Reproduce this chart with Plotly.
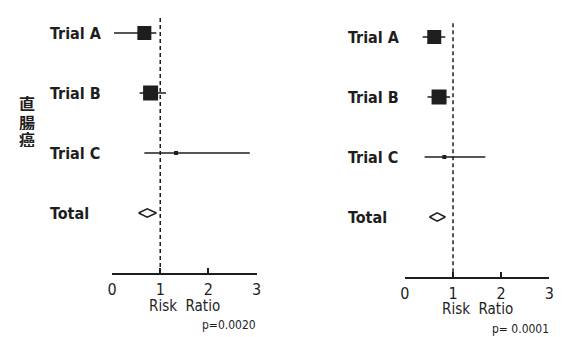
import plotly.graph_objects as go

# ---- data ----
trials = ["Trial A", "Trial B", "Trial C", "Total"]
rows = [0, 1, 2, 3]

left_est = [0.67, 0.80, 1.33]
left_lo = [0.04, 0.57, 0.67]
left_hi = [0.92, 1.12, 2.86]
left_total = [0.55, 0.73, 0.92]  # lo, est, hi
left_p = "p=0.0020"

right_est = [0.61, 0.71, 0.82]
right_lo = [0.37, 0.47, 0.41]
right_hi = [0.84, 0.94, 1.67]
right_total = [0.51, 0.67, 0.84]
right_p = "p= 0.0001"

sizes = [14, 15, 4]
ticks = [0, 1, 2, 3]
tick_labels = ["0", "1", "2", "3"]
side_chars = ["直", "腸", "癌"]

W, H = 572, 337
INK = "#1e1e1e"
FONT = "DejaVu Sans Condensed, Liberation Sans Narrow, sans-serif"

fig = go.Figure()


def add_panel(xa, ya, est, lo, hi, total):
    xref = "x" if xa == 1 else f"x{xa}"
    yref = "y" if ya == 1 else f"y{ya}"
    for i in range(3):
        fig.add_trace(go.Scatter(
            x=[lo[i], hi[i]], y=[rows[i], rows[i]], mode="lines",
            line=dict(color=INK, width=1.5), xaxis=xref, yaxis=yref,
            showlegend=False, hoverinfo="skip"))
    fig.add_trace(go.Scatter(
        x=est, y=rows[:3], mode="markers",
        marker=dict(symbol="square", size=sizes, color=INK, opacity=1,
                    line=dict(width=0)),
        xaxis=xref, yaxis=yref, showlegend=False))
    r = rows[3]
    h = 0.068
    fig.add_trace(go.Scatter(
        x=[total[0], total[1], total[2], total[1], total[0]],
        y=[r, r - h, r, r + h, r], mode="lines",
        line=dict(color=INK, width=1.5), xaxis=xref, yaxis=yref,
        showlegend=False, hoverinfo="skip"))


add_panel(1, 1, left_est, left_lo, left_hi, left_total)
add_panel(2, 2, right_est, right_lo, right_hi, right_total)

axis_common = dict(
    range=[0, 3], tickvals=ticks, ticktext=tick_labels, ticks="inside",
    ticklen=5, tickwidth=1.5, tickcolor=INK, showline=True, linecolor=INK,
    linewidth=2, showgrid=False, zeroline=False,
    tickfont=dict(family=FONT, size=16, color=INK), ticklabelstandoff=1,
)
fig.update_layout(
    width=W, height=H, margin=dict(l=0, r=0, t=0, b=0),
    paper_bgcolor="white", plot_bgcolor="white",
    xaxis=dict(domain=[109 / W, 256 / W], anchor="y", **axis_common),
    xaxis2=dict(domain=[407 / W, 554 / W], anchor="y2", **axis_common),
    yaxis=dict(domain=[1 - 273 / H, 1], range=[4, -33 / 60], visible=False),
    yaxis2=dict(domain=[1 - 277 / H, 1], range=[4, -37 / 60], visible=False),
)

# reference dashed lines at RR = 1
fig.add_shape(type="line", xref="x", yref="y", x0=1, x1=1, y0=-0.25, y1=4,
              line=dict(color=INK, width=1.5, dash="4px,3px"))
fig.add_shape(type="line", xref="x2", yref="y2", x0=1, x1=1, y0=-0.23, y1=4,
              line=dict(color=INK, width=1.5, dash="4px,3px"))

# row labels
for xa, ya, xl in [("x", "y", 44), ("x2", "y2", 347)]:
    for r, t in zip(rows, trials):
        fig.add_annotation(text=f"<b>{t}</b>", xref="paper", yref=ya,
                           x=xl / W, y=r, xanchor="left", yanchor="middle",
                           showarrow=False,
                           font=dict(family=FONT, size=16, color=INK))
    fig.add_annotation(text="Risk  Ratio", xref=xa, yref="paper",
                       x=1.5, y=1 - (306 if xa == "x" else 309) / H,
                       xanchor="center", yanchor="middle", showarrow=False,
                       font=dict(family=FONT, size=15, color=INK))

fig.add_annotation(text=left_p, xref="paper", yref="paper", x=258 / W,
                   y=1 - 325 / H, xanchor="right", yanchor="middle",
                   showarrow=False, font=dict(family=FONT, size=12, color=INK))
fig.add_annotation(text=right_p, xref="paper", yref="paper", x=556 / W,
                   y=1 - 329 / H, xanchor="right", yanchor="middle",
                   showarrow=False, font=dict(family=FONT, size=12, color=INK))

for ch, yp in zip(side_chars, [102, 121, 139]):
    fig.add_annotation(text=f"<b>{ch}</b>", xref="paper", yref="paper",
                       x=22 / W, y=1 - yp / H, xanchor="center",
                       yanchor="middle", showarrow=False, height=17,
                       font=dict(family="Noto Sans CJK JP", size=16, color=INK))

post = ("document.body.style.margin='0';"
        "document.body.style.overflow='hidden';"
        "document.documentElement.style.overflow='hidden';")
fig.write_html("out.html", post_script=post,
               config={"displayModeBar": False, "responsive": False})
